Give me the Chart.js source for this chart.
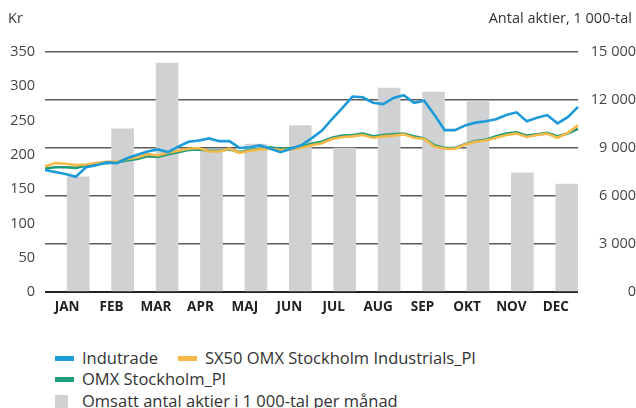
<!DOCTYPE html>
<html>
<head>
<meta charset="utf-8">
<script src="https://cdn.jsdelivr.net/npm/chart.js@4.4.1/dist/chart.umd.min.js"></script>
<style>
  body { margin: 0; background: #fff; font-family: "Open Sans", sans-serif; color: #333; }
  #wrap { position: relative; width: 636px; height: 408px; overflow: hidden; }
  #chart { position: absolute; left: 0; top: 0; }
  .axtitle { position: absolute; top: 8px; font-size: 14.5px; color: #333; line-height: 20px; }
  .leg { position: absolute; font-size: 16.5px; color: #333; line-height: 20px; white-space: nowrap; }
  .sw { position: absolute; }
</style>
</head>
<body>
<div id="wrap">
  <canvas id="chart" width="636" height="330"></canvas>
  <div class="axtitle" style="left:8px">Kr</div>
  <div class="axtitle" style="right:4px">Antal aktier, 1 000-tal</div>
  <div id="legend"></div>
</div>
<script>
// Months and monthly volume (right axis, 1 000-tal)
const months = ['JAN', 'FEB', 'MAR', 'APR', 'MAJ', 'JUN', 'JUL', 'AUG', 'SEP', 'OKT', 'NOV', 'DEC'];
const volume = [7200, 10200, 14300, 8900, 9250, 10400, 9000, 12750, 12500, 11900, 7450, 6750];

// Weekly prices (left axis, kr)
const weeks = Array.from({ length: 53 }, (_, i) => 'v' + (i + 1));
const indutrade = [178, 175, 172, 168, 182, 185, 189, 188, 195, 200, 205, 208, 204, 212, 219, 221, 224, 220, 220, 210,
  211, 214, 209, 204, 209, 214, 224, 235, 252, 268, 285, 284, 276, 274, 283, 287, 276, 279, 258, 236,
  236, 243, 247, 249, 252, 258, 262, 249, 254, 258, 246, 255, 270];
const sx50 = [183, 188, 187, 185, 186, 188, 190, 190, 194, 196, 201, 199, 203, 206, 209, 210, 205, 205, 209, 203,
  206, 208, 209, 207, 208, 210, 214, 217, 223, 226, 227, 229, 225, 227, 228, 230, 225, 223, 212, 209,
  209, 215, 219, 221, 225, 229, 231, 226, 229, 231, 225, 232, 243];
const omx = [180, 182, 182, 181, 184, 186, 188, 189, 192, 194, 198, 197, 201, 204, 207, 208, 206, 206, 208, 204,
  207, 209, 211, 209, 210, 212, 216, 219, 225, 228, 229, 231, 227, 229, 230, 231, 227, 224, 214, 210,
  210, 216, 220, 222, 227, 231, 233, 228, 230, 232, 227, 231, 238];

const leftTicks = { min: 0, max: 350, step: 50 };
const rightTicks = { min: 0, max: 15000, step: 3000 };

const fmt = v => String(v).replace(/\B(?=(\d{3})+(?!\d))/g, ' ');

const lineStyle = { pointRadius: 0, borderWidth: 2.6, tension: 0, fill: false, xAxisID: 'xw', yAxisID: 'y' };

const ctx = document.getElementById('chart').getContext('2d');
const chart = new Chart(ctx, {
  data: {
    labels: months,
    datasets: [
      { type: 'line', label: 'Indutrade', data: indutrade, borderColor: '#1d9ad8', order: 1, ...lineStyle },
      { type: 'line', label: 'SX50 OMX Stockholm Industrials_PI', data: sx50, borderColor: '#f4b947', order: 2, ...lineStyle },
      { type: 'line', label: 'OMX Stockholm_PI', data: omx, borderColor: '#1f9c7c', order: 3, ...lineStyle },
      {
        type: 'bar', label: 'Omsatt antal aktier i 1 000-tal per månad', data: volume,
        backgroundColor: '#d0d1d3', barThickness: 22, xAxisID: 'x', yAxisID: 'y2', order: 10
      }
    ]
  },
  options: {
    responsive: false,
    animation: false,
    layout: { padding: { top: 52, left: 0, right: 0, bottom: 0 } },
    plugins: { legend: { display: false }, tooltip: { enabled: false } },
    scales: {
      x: {
        type: 'category',
        offset: true,
        grid: { display: false, drawTicks: false },
        border: { display: false },
        ticks: { color: '#222', font: { family: 'Open Sans', size: 13.5, weight: 'bold' }, padding: 7, maxRotation: 0 },
        afterFit: s => { s.height = 38; }
      },
      xw: {
        type: 'category',
        labels: weeks,
        offset: false,
        display: false
      },
      y: {
        position: 'left',
        min: leftTicks.min, max: leftTicks.max,
        grid: { display: false, drawTicks: false },
        border: { display: false },
        ticks: { stepSize: leftTicks.step, color: '#444', font: { family: 'Open Sans', size: 14.5 }, padding: 10 },
        afterFit: s => { s.width = 45; }
      },
      y2: {
        position: 'right',
        min: rightTicks.min, max: rightTicks.max,
        grid: {
          drawTicks: false,
          color: c => c.tick && c.tick.value === 0 ? '#222' : '#5a5a5a',
          lineWidth: c => c.tick && c.tick.value === 0 ? 2 : 1.5
        },
        border: { display: false },
        ticks: {
          stepSize: rightTicks.step, color: '#444', font: { family: 'Open Sans', size: 14.5 }, padding: 14,
          crossAlign: 'far', callback: v => fmt(v)
        },
        afterFit: s => { s.width = 58; }
      }
    }
  }
});

// HTML legend, laid out as in the reference
const legend = document.getElementById('legend');
const slots = [
  { ds: 0, x: 55, y: 348 },
  { ds: 1, x: 178, y: 348 },
  { ds: 2, x: 55, y: 369 },
  { ds: 3, x: 55, y: 391 }
];
slots.forEach(s => {
  const d = chart.data.datasets[s.ds];
  const sw = document.createElement('div');
  sw.className = 'sw';
  if (d.type === 'bar') {
    sw.style.cssText = `left:${s.x}px;top:${s.y + 4}px;width:13px;height:13px;background:${d.backgroundColor}`;
  } else {
    sw.style.cssText = `left:${s.x}px;top:${s.y + 8}px;width:19px;height:5px;background:${d.borderColor}`;
  }
  legend.appendChild(sw);
  const t = document.createElement('div');
  t.className = 'leg';
  t.style.left = (s.x + 27) + 'px';
  t.style.top = s.y + 'px';
  t.textContent = d.label;
  legend.appendChild(t);
});
</script>
</body>
</html>
